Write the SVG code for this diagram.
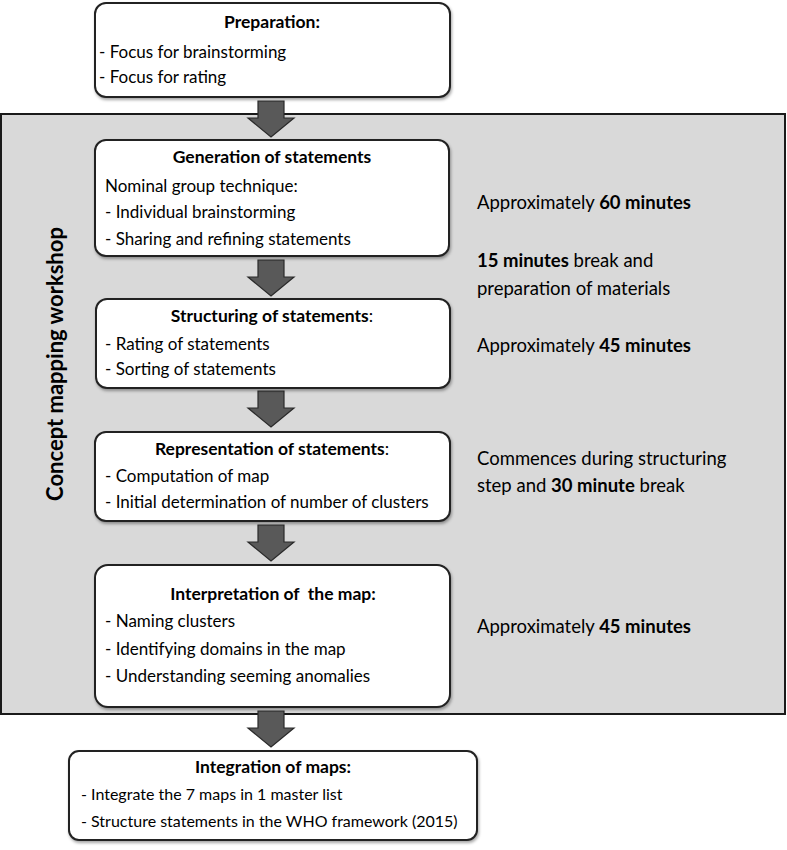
<svg xmlns="http://www.w3.org/2000/svg" width="787" height="850" viewBox="0 0 787 850">
<defs>
<filter id="sh" x="-5%" y="-5%" width="110%" height="115%">
<feDropShadow dx="1" dy="2" stdDeviation="1.5" flood-color="#000" flood-opacity="0.35"/>
</filter>
<path id="arr" d="M-13,0 H13 V17 H23 L0,36 L-23,17 H-13 Z"/>
</defs>
<style>
text{font-family:Lato,"Open Sans","Liberation Sans",sans-serif;fill:#000;font-size:17px}
.h{font-weight:bold;text-anchor:middle;font-size:17.5px}
.b{font-weight:bold}
.box{fill:#fff;stroke:#222;stroke-width:2;filter:url(#sh)}
.ar{fill:#595959;stroke:#2a2a2a;stroke-width:1.2}
.r{font-size:18.5px}
.s{font-size:16px}
</style>
<rect width="787" height="850" fill="#fff"/>
<g id="workshop-panel">
<rect x="1" y="114" width="784" height="600" fill="#d9d9d9" stroke="#1a1a1a" stroke-width="2"/>
<text x="63" y="364" transform="rotate(-90 63 364)" text-anchor="middle" font-weight="bold" style="font-size:22px">Concept mapping workshop</text>
</g>
<g id="connectors">
<use href="#arr" class="ar" transform="translate(271,101)"/>
<use href="#arr" class="ar" transform="translate(271,260)"/>
<use href="#arr" class="ar" transform="translate(271,391)"/>
<use href="#arr" class="ar" transform="translate(271,525)"/>
<use href="#arr" class="ar" transform="translate(271,711)"/>
</g>
<g id="preparation">
<rect class="box" x="95" y="3" width="355" height="94" rx="11"/>
<text class="h" x="272" y="28">Preparation:</text>
<text x="99" y="58">- Focus for brainstorming</text>
<text x="99" y="83">- Focus for rating</text>
</g>
<g id="generation">
<rect class="box" x="95" y="140" width="354" height="116" rx="11"/>
<text class="h" x="272" y="163">Generation of statements</text>
<text x="105" y="192">Nominal group technique:</text>
<text x="105" y="218">- Individual brainstorming</text>
<text x="105" y="245">- Sharing and refining statements</text>
</g>
<g id="structuring">
<rect class="box" x="96" y="299" width="354" height="89" rx="11"/>
<text class="h" x="272" y="322">Structuring of statements<tspan font-weight="normal">:</tspan></text>
<text x="105" y="350">- Rating of statements</text>
<text x="105" y="375">- Sorting of statements</text>
</g>
<g id="representation">
<rect class="box" x="95" y="432" width="355" height="89" rx="11"/>
<text class="h" x="272" y="455">Representation of statements<tspan font-weight="normal">:</tspan></text>
<text x="105" y="482">- Computation of map</text>
<text x="105" y="508">- Initial determination of number of clusters</text>
</g>
<g id="interpretation">
<rect class="box" x="95" y="565" width="355" height="142" rx="13"/>
<text class="h" x="273" y="600" xml:space="preserve">Interpretation of  the map:</text>
<text x="105" y="627">- Naming clusters</text>
<text x="105" y="655">- Identifying domains in the map</text>
<text x="105" y="682">- Understanding seeming anomalies</text>
</g>
<g id="integration">
<rect class="box" x="69" y="751" width="408" height="89" rx="10"/>
<text class="h" x="273" y="773">Integration of maps:</text>
<text class="s" x="81" y="800">- Integrate the 7 maps in 1 master list</text>
<text class="s" x="81" y="827">- Structure statements in the WHO framework (2015)</text>
</g>
<g id="timings">
<text class="r" x="477" y="209">Approximately <tspan class="b">60 minutes</tspan></text>
<text class="r" x="477" y="267"><tspan class="b">15 minutes</tspan> break and</text>
<text class="r" x="477" y="295">preparation of materials</text>
<text class="r" x="477" y="352">Approximately <tspan class="b">45 minutes</tspan></text>
<text class="r" x="477" y="465">Commences during structuring</text>
<text class="r" x="477" y="492">step and <tspan class="b">30 minute</tspan> break</text>
<text class="r" x="477" y="633">Approximately <tspan class="b">45 minutes</tspan></text>
</g>
</svg>
